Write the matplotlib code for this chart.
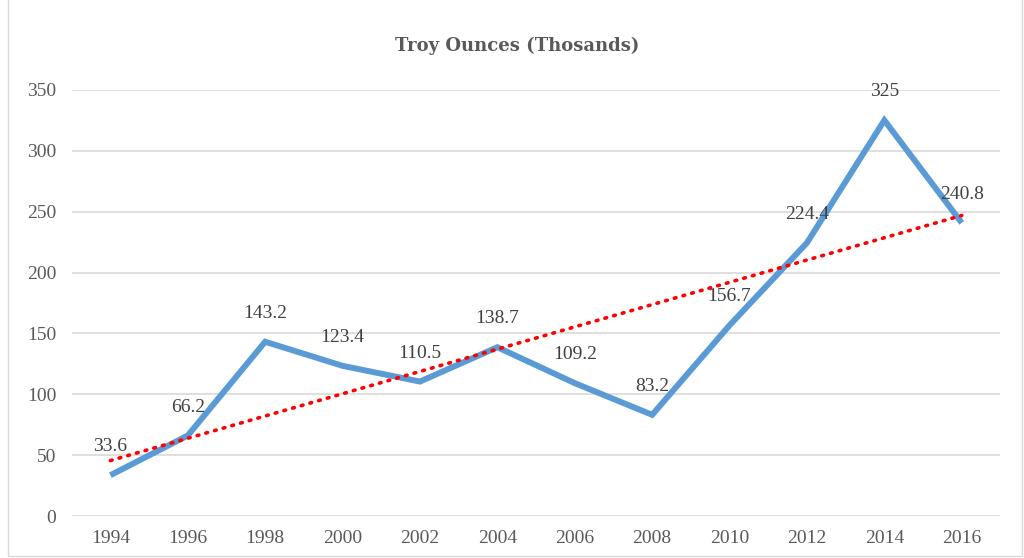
import numpy as np
import matplotlib.pyplot as plt
from matplotlib.patches import Rectangle

years = ['1994', '1996', '1998', '2000', '2002', '2004', '2006', '2008',
         '2010', '2012', '2014', '2016']
ounces = [33.6, 66.2, 143.2, 123.4, 110.5, 138.7, 109.2, 83.2,
          156.7, 224.4, 325, 240.8]

plt.rcParams['font.family'] = ['Liberation Serif', 'DejaVu Serif']

fig = plt.figure(figsize=(10.24, 5.58), dpi=100)
ax = fig.add_axes([0.070, 0.075, 0.907, 0.764])

x = np.arange(len(years))
ax.plot(x, ounces, color='#5B9BD5', lw=4.3, solid_capstyle='butt',
        solid_joinstyle='miter', zorder=3)

# linear trendline
k, b = np.polyfit(x, ounces, 1)
ax.plot(x, k * x + b, color='#FF0000', lw=2.6, linestyle=(0, (0.5, 2.0)),
        dash_capstyle='round', zorder=4)

for xi, v in zip(x, ounces):
    ax.annotate(f'{v:g}', (xi, v), xytext=(0, 20.5), textcoords='offset points',
                ha='center', va='center', fontsize=14, color='#404040', zorder=5)

ax.set_xlim(-0.5, len(years) - 0.5)
ax.set_ylim(0, 350)
ax.set_yticks(np.arange(0, 351, 50))
ax.set_xticks(x)
ax.set_xticklabels(years)
ax.tick_params(axis='both', length=0, labelsize=14, labelcolor='#595959')
ax.tick_params(axis='y', pad=11)
ax.tick_params(axis='x', pad=10)
ax.grid(axis='y', color='#D9D9D9', lw=1.2)
ax.set_axisbelow(True)
for s in ax.spines.values():
    s.set_visible(False)

fig.text(0.505, 0.918, 'Troy Ounces (Thosands)', ha='center', va='center',
         fontsize=13, fontweight='bold', color='#595959', family='DejaVu Serif')

fig.patches.append(Rectangle((0.008, 0.004), 0.99, 1.2, transform=fig.transFigure,
                             fill=False, edgecolor='#D9D9D9', lw=1))

fig.savefig('out.png', dpi=100)
